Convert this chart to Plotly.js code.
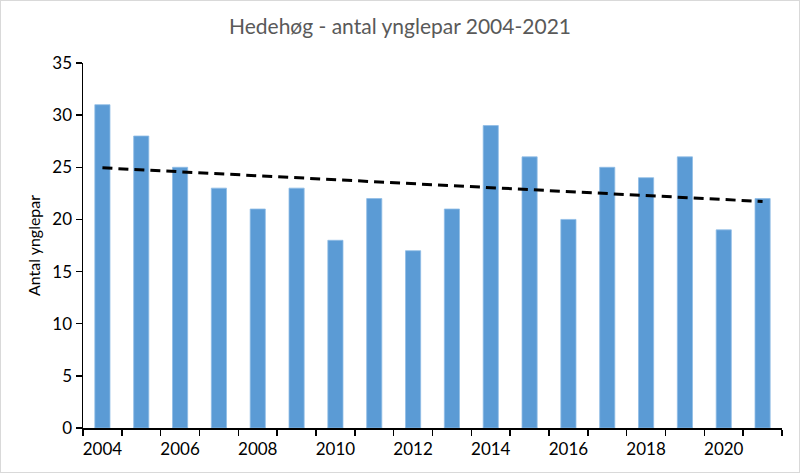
<!DOCTYPE html>
<html>
<head>
<meta charset="utf-8">
<script src="https://cdn.plot.ly/plotly-3.0.1.min.js"></script>
<style>
html,body{margin:0;padding:0;background:#fff;}
#chart{width:800px;height:473px;box-sizing:border-box;border:1px solid #d9d9d9;}
</style>
</head>
<body>
<div id="chart"></div>
<script>
const years = [2004,2005,2006,2007,2008,2009,2010,2011,2012,2013,2014,2015,2016,2017,2018,2019,2020,2021];
const pairs = [31,28,25,23,21,23,18,22,17,21,29,26,20,25,24,26,19,22];
const labelYears = [2004,2006,2008,2010,2012,2014,2016,2018,2020];
const titleText = 'Hedehøg - antal ynglepar 2004-2021';
const yTitle = 'Antal ynglepar';

// linear trend (least squares) from the data
const n = years.length;
const mx = years.reduce((a,b)=>a+b,0)/n;
const my = pairs.reduce((a,b)=>a+b,0)/n;
let sxy=0,sxx=0;
for(let i=0;i<n;i++){sxy+=(years[i]-mx)*(pairs[i]-my);sxx+=(years[i]-mx)**2;}
const slope=sxy/sxx, icpt=my-slope*mx;
const tx=[years[0],years[n-1]];
const ty=tx.map(x=>icpt+slope*x);

const boundaries = years.map(y=>y-0.5).concat([years[n-1]+0.5]);
const font = 'Lato, "Open Sans", sans-serif';

const data = [
  {type:'bar', x:years, y:pairs, width:0.39,
   marker:{color:'#5b9bd5', line:{color:'#8fbde6', width:0.8}}, hoverinfo:'x+y'},
  {type:'scatter', mode:'lines', x:tx, y:ty,
   line:{color:'#000', width:3, dash:'10px,6px'}, hoverinfo:'skip'},
  {type:'scatter', mode:'markers', x:labelYears, y:labelYears.map(()=>0), xaxis:'x2',
   marker:{opacity:0}, hoverinfo:'skip'}
];

const layout = {
  width:798, height:471,
  margin:{l:82, r:17, t:62, b:44},
  paper_bgcolor:'#fff', plot_bgcolor:'#fff',
  showlegend:false,
  title:{text:titleText, x:0.5, xanchor:'center', y:0.945, yanchor:'middle',
         font:{family:font, size:21, color:'#595959'}},
  xaxis:{range:[years[0]-0.5, years[n-1]+0.5], tickvals:boundaries, ticktext:boundaries.map(()=>''),
         ticks:'outside', ticklen:6, tickwidth:1.5, tickcolor:'#000',
         showline:true, linecolor:'#000', linewidth:1.5, showgrid:false, zeroline:false, fixedrange:true},
  xaxis2:{overlaying:'x', range:[years[0]-0.5, years[n-1]+0.5], tickvals:labelYears,
          ticktext:labelYears.map(String), ticks:'', showline:false, showgrid:false, zeroline:false,
          side:'bottom', anchor:'y', tickfont:{family:font, size:17, color:'#000'}, ticklabelstandoff:9},
  yaxis:{range:[0,35], dtick:5, tick0:0, ticks:'outside', ticklen:6, tickwidth:1.5, tickcolor:'#000',
         showline:true, linecolor:'#000', linewidth:1.5, showgrid:false, zeroline:false,
         tickfont:{family:font, size:17, color:'#000'},
         title:{text:yTitle, font:{family:font, size:16, color:'#000'}, standoff:8}}
};

Plotly.newPlot('chart', data, layout, {displayModeBar:false, staticPlot:true});
</script>
</body>
</html>
